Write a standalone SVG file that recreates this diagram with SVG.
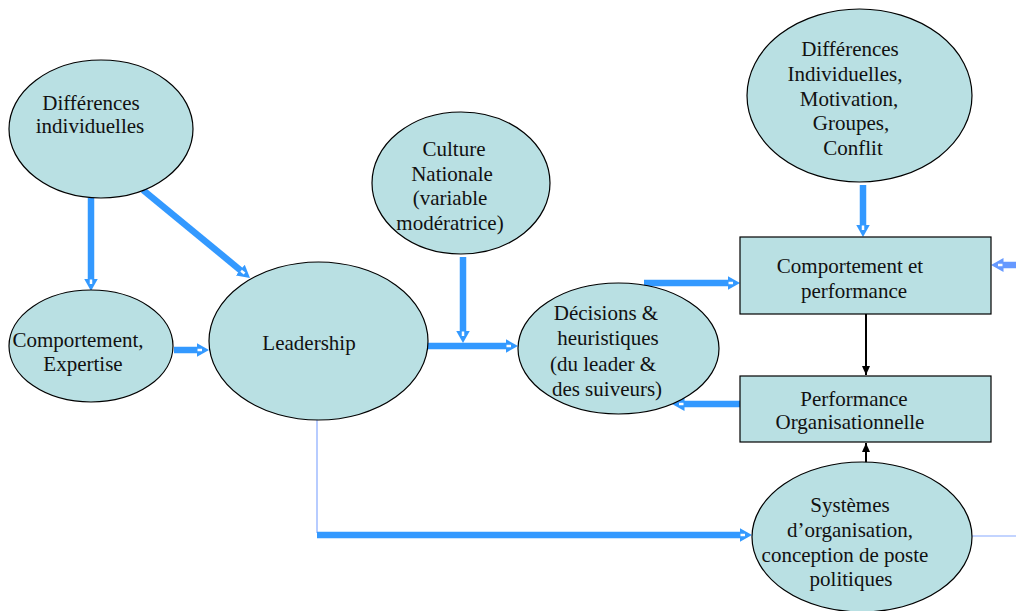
<svg xmlns="http://www.w3.org/2000/svg" width="1016" height="611" viewBox="0 0 1016 611">
<defs>
<style>
.n{fill:#b9e0e3;stroke:#000;stroke-width:1.2}
.t{font-family:"Liberation Serif","Times New Roman",serif;font-size:21px;fill:#111;text-anchor:middle}
.b{fill:none;stroke:#3399ff;stroke-width:6.5}
.bl{fill:none;stroke:#000;stroke-width:2}
.thin{fill:none;stroke:#88aaff;stroke-width:1.2}
</style>
<marker id="ah" markerUnits="userSpaceOnUse" markerWidth="14" markerHeight="16" viewBox="0 0 14 16" refX="0.5" refY="8" orient="auto">
<path d="M0,1 L12.5,8 L0,15 Z" fill="#3399ff"/>
<path d="M1,8 H5.5" stroke="#fff" stroke-width="2.5"/>
</marker>
<marker id="ah2" markerUnits="userSpaceOnUse" markerWidth="14" markerHeight="16" viewBox="0 0 14 16" refX="0.5" refY="8" orient="auto">
<path d="M0,1 L12.5,8 L0,15 Z" fill="#6699ff"/>
<path d="M1,8 H5.5" stroke="#fff" stroke-width="2.5"/>
</marker>
<marker id="bk" markerUnits="userSpaceOnUse" markerWidth="10" markerHeight="10" viewBox="0 0 10 10" refX="9" refY="5" orient="auto">
<path d="M0,1 L9,5 L0,9 Z" fill="#000"/>
</marker>
</defs>
<rect width="1016" height="611" fill="#fff"/>

<g id="connectors">
<path class="b" d="M91,198 V279" marker-end="url(#ah)"/>
<path class="b" d="M143,190 L240.7,270.4" marker-end="url(#ah)"/>
<path class="b" d="M174,350 H197" marker-end="url(#ah)"/>
<path class="b" d="M428,346 H506" marker-end="url(#ah)"/>
<path class="b" d="M463,257 V331" marker-end="url(#ah)"/>
<path class="b" d="M644,283 H728" marker-end="url(#ah)"/>
<path class="b" d="M745,404 H684" marker-end="url(#ah)"/>
<path class="b" d="M863,185 V225" marker-end="url(#ah)"/>
<path class="b" style="stroke:#6699ff" d="M1016,265 H1003" marker-end="url(#ah2)"/>
<path class="thin" d="M317,420 V533"/>
<path class="b" d="M317,535 H740" marker-end="url(#ah)"/>
<path class="thin" d="M972,536 H1016"/>
<path class="bl" d="M866,314 V375" marker-end="url(#bk)"/>
<path class="bl" d="M866,463 V443" marker-end="url(#bk)"/>
</g>

<g id="diff-indiv">
<ellipse class="n" cx="101" cy="129" rx="92" ry="69"/>
<text class="t" x="91" y="110">Différences</text>
<text class="t" x="90" y="133">individuelles</text>
</g>

<g id="comport-expertise">
<ellipse class="n" cx="91" cy="346" rx="82" ry="56"/>
<text class="t" x="78" y="347">Comportement,</text>
<text class="t" x="83" y="371">Expertise</text>
</g>

<g id="leadership">
<ellipse class="n" cx="318.5" cy="341" rx="109.5" ry="79"/>
<text class="t" x="309" y="350">Leadership</text>
</g>

<g id="culture">
<ellipse class="n" cx="461" cy="183" rx="89" ry="71"/>
<text class="t" x="454" y="156">Culture</text>
<text class="t" x="452" y="181">Nationale</text>
<text class="t" x="450" y="205">(variable</text>
<text class="t" x="450" y="230">modératrice)</text>
</g>

<g id="decisions">
<ellipse class="n" cx="618.5" cy="348.5" rx="100.5" ry="65.5"/>
<text class="t" x="606" y="320">Décisions &amp;</text>
<text class="t" x="608" y="345">heuristiques</text>
<text class="t" x="603" y="371">(du leader &amp;</text>
<text class="t" x="607" y="396">des suiveurs)</text>
</g>

<g id="diff-motivation">
<ellipse class="n" cx="859.5" cy="95.5" rx="112.5" ry="86.5"/>
<text class="t" x="850" y="56">Différences</text>
<text class="t" x="845" y="81">Individuelles,</text>
<text class="t" x="849" y="106">Motivation,</text>
<text class="t" x="851" y="130">Groupes,</text>
<text class="t" x="853" y="155">Conflit</text>
</g>

<g id="comport-perf">
<rect class="n" x="740" y="237" width="251" height="77"/>
<text class="t" x="850" y="273">Comportement et</text>
<text class="t" x="854" y="298">performance</text>
</g>

<g id="perf-org">
<rect class="n" x="740" y="376" width="251" height="66"/>
<text class="t" x="854" y="406">Performance</text>
<text class="t" x="850" y="429">Organisationnelle</text>
</g>

<g id="systemes">
<ellipse class="n" cx="862" cy="537" rx="110" ry="75"/>
<text class="t" x="850" y="512">Systèmes</text>
<text class="t" x="850" y="537">d’organisation,</text>
<text class="t" x="845" y="562">conception de poste</text>
<text class="t" x="851" y="586">politiques</text>
</g>
</svg>
